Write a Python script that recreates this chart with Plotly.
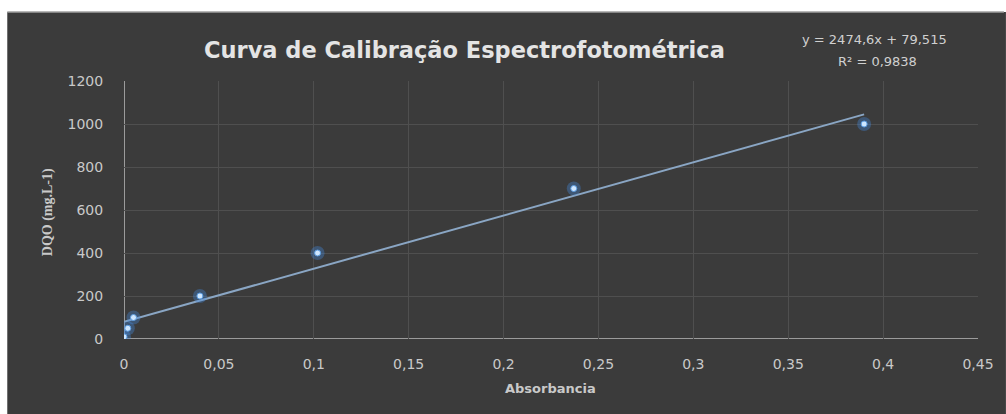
import plotly.graph_objects as go

# Calibration standards: absorbance vs. DQO concentration
absorbancia = [0.0, 0.002, 0.005, 0.04, 0.102, 0.237, 0.39]
dqo = [10, 50, 100, 200, 400, 700, 1000]

# Linear trendline coefficients
slope = 2474.6
intercept = 79.515
r2 = "0,9838"

x_ticks = [0, 0.05, 0.1, 0.15, 0.2, 0.25, 0.3, 0.35, 0.4, 0.45]
x_tick_text = ["0", "0,05", "0,1", "0,15", "0,2", "0,25", "0,3", "0,35", "0,4", "0,45"]
y_ticks = [0, 200, 400, 600, 800, 1000, 1200]

BG = "#3b3b3b"
GRID = "#4f4f4f"
TXT = "#c9c9c9"
SANS = "DejaVu Sans, sans-serif"

# plot-area geometry in pixels
W, H = 1006, 414
L, R, T, B = 124, 26, 81, 75
PW, PH = W - L - R, H - T - B


def px(xpix):
    return (xpix - L) / PW


def py(ypix):
    return (H - B - ypix) / PH


fit_x = [min(absorbancia), max(absorbancia)]
fit_y = [slope * v + intercept for v in fit_x]

fig = go.Figure()

fig.add_trace(go.Scatter(
    x=fit_x, y=fit_y, mode="lines",
    line=dict(color="#8aa6c4", width=2),
    hoverinfo="skip", showlegend=False,
))
# soft glow behind the markers
fig.add_trace(go.Scatter(
    x=absorbancia, y=dqo, mode="markers",
    marker=dict(size=14, color="rgba(70,140,225,0.35)", line=dict(width=0)),
    hoverinfo="skip", showlegend=False,
))
fig.add_trace(go.Scatter(
    x=absorbancia, y=dqo, mode="markers",
    marker=dict(size=6, color="#cfe7ff", line=dict(width=1, color="#5a9be0")),
    showlegend=False,
))

fig.update_layout(
    width=W, height=H,
    paper_bgcolor="white",
    plot_bgcolor=BG,
    margin=dict(l=L, r=R, t=T, b=B),
    font=dict(family=SANS, color=TXT, size=14),
    shapes=[
        dict(type="rect", xref="paper", yref="paper", layer="below",
             x0=px(7), x1=px(W + 2), y0=py(H + 2), y1=py(12),
             fillcolor=BG, line=dict(width=0)),
        dict(type="line", xref="paper", yref="paper", layer="below",
             x0=px(7), x1=px(W), y0=py(12), y1=py(12),
             line=dict(color="#a0a0a0", width=1.5)),
        # axis lines at x=0 and y=0
        dict(type="line", xref="x", yref="y", x0=0, x1=0.45, y0=0, y1=0,
             line=dict(color="#bdbdbd", width=1.5), layer="below"),
        dict(type="line", xref="x", yref="y", x0=0, x1=0, y0=0, y1=1200,
             line=dict(color="#bdbdbd", width=1.5), layer="below"),
    ],
    annotations=[
        dict(text="<b>Curva de Calibração Espectrofotométrica</b>",
             xref="paper", yref="paper", x=px(465), y=py(50),
             xanchor="center", yanchor="middle", showarrow=False,
             font=dict(size=22.5, color="#e4e4e4", family=SANS)),
        dict(text="y = 2474,6x + 79,515",
             xref="paper", yref="paper", x=px(876), y=py(40),
             xanchor="center", yanchor="middle", showarrow=False,
             font=dict(size=13, color="#d0d0d0", family=SANS)),
        dict(text=f"R² = {r2}",
             xref="paper", yref="paper", x=px(879), y=py(61),
             xanchor="center", yanchor="middle", showarrow=False,
             font=dict(size=13, color="#d0d0d0", family=SANS)),
        dict(text="<b>Absorbancia</b>",
             xref="paper", yref="paper", x=px(551), y=py(388),
             xanchor="center", yanchor="middle", showarrow=False,
             font=dict(size=13, color=TXT, family=SANS)),
        dict(text="<b>DQO (mg.L-1)</b>",
             xref="paper", yref="paper", x=px(48), y=py(212), textangle=-90,
             xanchor="center", yanchor="middle", showarrow=False,
             font=dict(size=14, color=TXT, family="Liberation Serif, serif")),
    ],
)

fig.update_xaxes(
    range=[0, 0.45], tickvals=x_ticks, ticktext=x_tick_text,
    showgrid=True, gridcolor=GRID, gridwidth=1,
    showline=False, zeroline=False,
    ticks="outside", ticklen=12, tickcolor="rgba(0,0,0,0)",
    tickfont=dict(size=14, color=TXT, family=SANS),
)
fig.update_yaxes(
    range=[0, 1200], tickvals=y_ticks,
    showgrid=True, gridcolor=GRID, gridwidth=1,
    showline=False, zeroline=False,
    ticks="outside", ticklen=17, tickcolor="rgba(0,0,0,0)",
    tickfont=dict(size=14, color=TXT, family=SANS),
)

fig.write_html("out.html")
